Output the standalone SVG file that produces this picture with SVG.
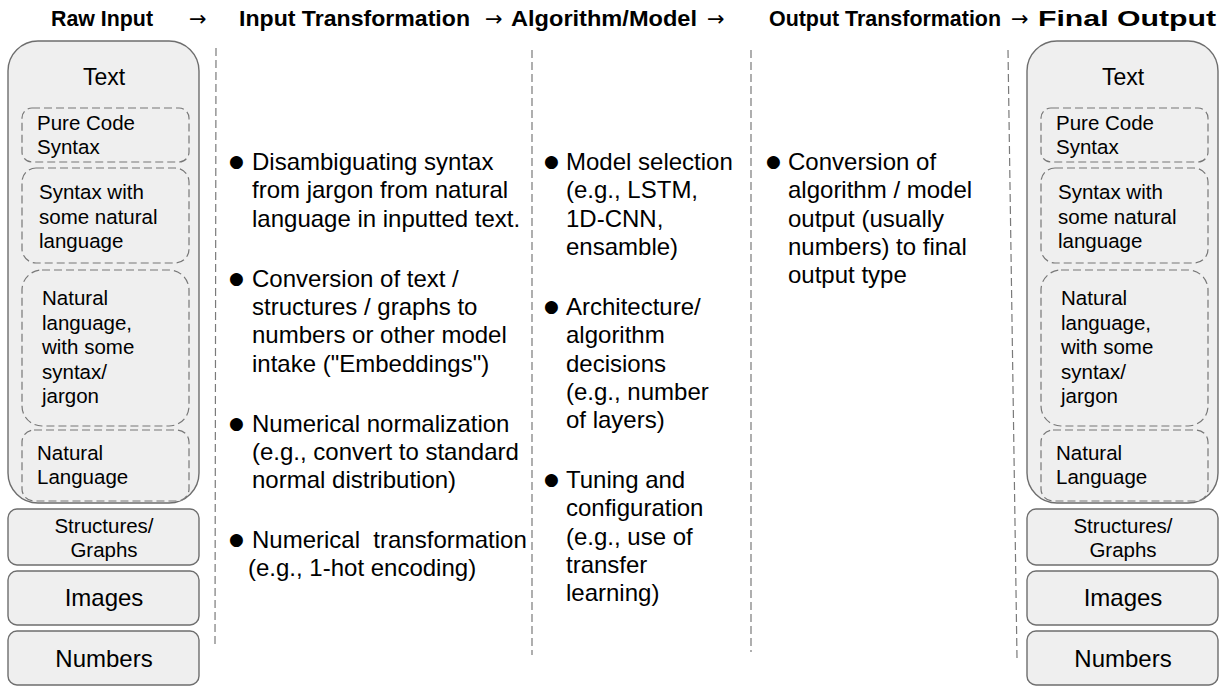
<svg xmlns="http://www.w3.org/2000/svg" width="1225" height="686" viewBox="0 0 1225 686">
<style>
  text { font-family: "Liberation Sans", Arial, "DejaVu Sans", sans-serif; fill: #000; }
  .hdr { font-size: 22.5px; font-weight: bold; }
  .arr { font-size: 21px; font-family: "DejaVu Sans", "Liberation Sans", sans-serif; }
  .box { fill: #efefef; stroke: #6e6e6e; stroke-width: 1.4; }
  .sub { fill: #efefef; stroke: #777; stroke-width: 1.2; stroke-dasharray: 8 4; }
  .t23 { font-size: 23px; }
  .t24 { font-size: 24px; }
  .t21 { font-size: 20.5px; }
  .bul { font-size: 24px; }
  .dot { font-size: 17px; font-family: "DejaVu Sans", sans-serif; }
  .div { stroke: #7a7a7a; stroke-width: 1.2; stroke-dasharray: 8 4; fill: none; }
</style>

<g id="header">
  <text class="hdr" x="51" y="26" textLength="102" lengthAdjust="spacingAndGlyphs">Raw Input</text>
  <text class="arr" x="189" y="26">→</text>
  <text class="hdr" x="239" y="26" textLength="231" lengthAdjust="spacingAndGlyphs">Input Transformation</text>
  <text class="arr" x="485" y="26">→</text>
  <text class="hdr" x="511" y="26" textLength="186" lengthAdjust="spacingAndGlyphs">Algorithm/Model</text>
  <text class="arr" x="707" y="26">→</text>
  <text class="hdr" x="769" y="26" textLength="232" lengthAdjust="spacingAndGlyphs">Output Transformation</text>
  <text class="arr" x="1011" y="26">→</text>
  <text class="hdr" x="1038" y="26" textLength="178" lengthAdjust="spacingAndGlyphs">Final Output</text>
</g>

<g id="connectors">
  <line class="div" x1="216" y1="48" x2="215" y2="645"/>
  <line class="div" x1="532" y1="50" x2="532" y2="655"/>
  <line class="div" x1="751" y1="50" x2="751" y2="652"/>
  <line class="div" x1="1008" y1="50" x2="1017" y2="658"/>
</g>

<g id="raw-input">
  <g id="raw-text">
    <rect class="box" x="8" y="41" width="191" height="462" rx="30"/>
    <text class="t23" x="104" y="85" text-anchor="middle">Text</text>
  </g>
  <g id="raw-pure-code">
    <rect class="sub" x="22" y="108" width="167" height="54" rx="10"/>
    <text class="t21" x="37" y="130">Pure Code</text>
    <text class="t21" x="37" y="154">Syntax</text>
  </g>
  <g id="raw-syntax-nl">
    <rect class="sub" x="22" y="168" width="167" height="95" rx="14"/>
    <text class="t21" x="39" y="199">Syntax with</text>
    <text class="t21" x="39" y="224">some natural</text>
    <text class="t21" x="39" y="248">language</text>
  </g>
  <g id="raw-nl-syntax">
    <rect class="sub" x="22" y="270" width="167" height="156" rx="20"/>
    <text class="t21" x="42" y="305">Natural</text>
    <text class="t21" x="42" y="330">language,</text>
    <text class="t21" x="42" y="354">with some</text>
    <text class="t21" x="42" y="379">syntax/</text>
    <text class="t21" x="42" y="403">jargon</text>
  </g>
  <g id="raw-nl">
    <rect class="sub" x="22" y="430" width="167" height="71" rx="12"/>
    <text class="t21" x="37" y="460">Natural</text>
    <text class="t21" x="37" y="484">Language</text>
  </g>
  <g id="raw-structures">
    <rect class="box" x="8" y="509" width="191" height="56" rx="9"/>
    <text class="t21" x="104" y="533" text-anchor="middle">Structures/</text>
    <text class="t21" x="104" y="557" text-anchor="middle">Graphs</text>
  </g>
  <g id="raw-images">
    <rect class="box" x="8" y="571" width="191" height="54" rx="9"/>
    <text class="t24" x="104" y="606" text-anchor="middle">Images</text>
  </g>
  <g id="raw-numbers">
    <rect class="box" x="8" y="631" width="191" height="54" rx="9"/>
    <text class="t24" x="104" y="667" text-anchor="middle">Numbers</text>
  </g>
</g>

<g id="final-output" transform="translate(1019,0)">
  <g id="out-text">
    <rect class="box" x="8" y="41" width="191" height="462" rx="30"/>
    <text class="t23" x="104" y="85" text-anchor="middle">Text</text>
  </g>
  <g id="out-pure-code">
    <rect class="sub" x="22" y="108" width="167" height="54" rx="10"/>
    <text class="t21" x="37" y="130">Pure Code</text>
    <text class="t21" x="37" y="154">Syntax</text>
  </g>
  <g id="out-syntax-nl">
    <rect class="sub" x="22" y="168" width="167" height="95" rx="14"/>
    <text class="t21" x="39" y="199">Syntax with</text>
    <text class="t21" x="39" y="224">some natural</text>
    <text class="t21" x="39" y="248">language</text>
  </g>
  <g id="out-nl-syntax">
    <rect class="sub" x="22" y="270" width="167" height="156" rx="20"/>
    <text class="t21" x="42" y="305">Natural</text>
    <text class="t21" x="42" y="330">language,</text>
    <text class="t21" x="42" y="354">with some</text>
    <text class="t21" x="42" y="379">syntax/</text>
    <text class="t21" x="42" y="403">jargon</text>
  </g>
  <g id="out-nl">
    <rect class="sub" x="22" y="430" width="167" height="71" rx="12"/>
    <text class="t21" x="37" y="460">Natural</text>
    <text class="t21" x="37" y="484">Language</text>
  </g>
  <g id="out-structures">
    <rect class="box" x="8" y="509" width="191" height="56" rx="9"/>
    <text class="t21" x="104" y="533" text-anchor="middle">Structures/</text>
    <text class="t21" x="104" y="557" text-anchor="middle">Graphs</text>
  </g>
  <g id="out-images">
    <rect class="box" x="8" y="571" width="191" height="54" rx="9"/>
    <text class="t24" x="104" y="606" text-anchor="middle">Images</text>
  </g>
  <g id="out-numbers">
    <rect class="box" x="8" y="631" width="191" height="54" rx="9"/>
    <text class="t24" x="104" y="667" text-anchor="middle">Numbers</text>
  </g>
</g>

<g id="input-transformation">
  <text class="dot" x="229" y="167">●</text>
  <text class="bul" x="252" y="170">Disambiguating syntax</text>
  <text class="bul" x="252" y="198.3">from jargon from natural</text>
  <text class="bul" x="252" y="226.6">language in inputted text.</text>
  <text class="dot" x="229" y="283.6">●</text>
  <text class="bul" x="252" y="286.6">Conversion of text /</text>
  <text class="bul" x="252" y="314.9">structures / graphs to</text>
  <text class="bul" x="252" y="343.2">numbers or other model</text>
  <text class="bul" x="252" y="371.5">intake ("Embeddings")</text>
  <text class="dot" x="229" y="428.5">●</text>
  <text class="bul" x="252" y="431.5">Numerical normalization</text>
  <text class="bul" x="252" y="459.8">(e.g., convert to standard</text>
  <text class="bul" x="252" y="488.1">normal distribution)</text>
  <text class="dot" x="229" y="545.1">●</text>
  <text class="bul" x="252" y="548.1" xml:space="preserve">Numerical  transformation</text>
  <text class="bul" x="248" y="576.4">(e.g., 1-hot encoding)</text>
</g>

<g id="algorithm-model">
  <text class="dot" x="544" y="167">●</text>
  <text class="bul" x="566" y="170">Model selection</text>
  <text class="bul" x="566" y="198.3">(e.g., LSTM,</text>
  <text class="bul" x="566" y="226.6">1D-CNN,</text>
  <text class="bul" x="566" y="254.9">ensamble)</text>
  <text class="dot" x="544" y="311.9">●</text>
  <text class="bul" x="566" y="314.9">Architecture/</text>
  <text class="bul" x="566" y="343.2">algorithm</text>
  <text class="bul" x="566" y="371.5">decisions</text>
  <text class="bul" x="566" y="399.8">(e.g., number</text>
  <text class="bul" x="566" y="428.1">of layers)</text>
  <text class="dot" x="544" y="485.1">●</text>
  <text class="bul" x="566" y="488.1">Tuning and</text>
  <text class="bul" x="566" y="516.4">configuration</text>
  <text class="bul" x="566" y="544.7">(e.g., use of</text>
  <text class="bul" x="566" y="573">transfer</text>
  <text class="bul" x="566" y="601.3">learning)</text>
</g>

<g id="output-transformation">
  <text class="dot" x="766" y="167">●</text>
  <text class="bul" x="788" y="170">Conversion of</text>
  <text class="bul" x="788" y="198.3">algorithm / model</text>
  <text class="bul" x="788" y="226.6">output (usually</text>
  <text class="bul" x="788" y="254.9">numbers) to final</text>
  <text class="bul" x="788" y="283.2">output type</text>
</g>
</svg>
